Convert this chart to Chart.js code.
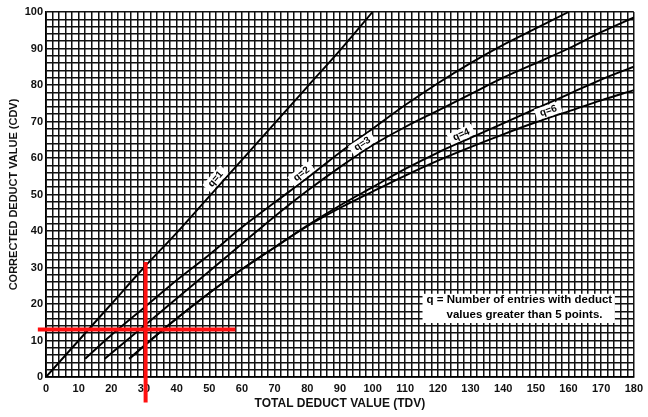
<!DOCTYPE html>
<html>
<head>
<meta charset="utf-8">
<script src="https://cdn.jsdelivr.net/npm/chart.js@4.4.1/dist/chart.umd.min.js"></script>
<style>
html,body{margin:0;padding:0;background:#fff;}
#wrap{width:648px;height:417px;position:relative;}
</style>
</head>
<body>
<div id="wrap"><canvas id="c" width="648" height="417"></canvas></div>
<script>
// ---- data ----
const q1Tdv = [0,10,20,30,40,50,60,70,80,90,100];
const q1Cdv = [0,10,20,30,39.5,49.5,59.5,69.5,79.5,89.5,100];
const q2Tdv = [12,20,30,40,50,60,70,80,90,100,110,120,130,140,150,160];
const q2Cdv = [5,11.5,19,26.5,33.5,41,47.8,54.5,61.5,68,74.5,80.5,86,91,95.5,100];
const q3Tdv = [18,20,30,40,50,60,70,80,90,100,110,120,130,140,150,160,170,180];
const q3Cdv = [5,6.5,14,21.5,29,36.5,44,51,57.5,63.5,68.5,73,77.5,82,86,90,94.5,98.5];
const q4Tdv = [25.5,30,40,50,60,70,80,90,100,110,120,130,140,150,160,170,180];
const q4Cdv = [5,8.5,16,23,29.5,35.5,41.5,47,52,57,61.5,65.5,69.5,73.5,77.5,81.5,85];
const q6Tdv = [25.5,30,40,50,60,70,80,90,100,110,120,130,140,150,160,170,180];
const q6Cdv = [5,8.5,16,23,29.5,35.5,41.3,46.3,50.8,55.2,59.3,63,66.5,69.8,72.8,75.8,78.6];
const curveNames = ['q=1','q=2','q=3','q=4','q=6'];
const labelAtTdv = [53.5,79.5,98,128,154.5];
// red cross-hair marks (value coordinates)
const redHTdv = [-2.5,58];
const redHCdv = [13,13];
const redVTdv = [30.5,30.5];
const redVCdv = [31.5,-7];
const xTickStep = 2, yTickStep = 2, labelEvery = 10;
const noteLines = ['q = Number of entries with deduct','values greater than 5 points.'];

const pairs = (xs, ys) => xs.map((x,i)=>({x:x, y:ys[i]}));
const curves = [pairs(q1Tdv,q1Cdv),pairs(q2Tdv,q2Cdv),pairs(q3Tdv,q3Cdv),pairs(q4Tdv,q4Cdv),pairs(q6Tdv,q6Cdv)];

const FONT = "'Liberation Sans', Arial, Helvetica, sans-serif";

const curveSets = curves.map((d,i)=>({
  label: curveNames[i], data: d, borderColor:'#000', borderWidth:1.9,
  pointRadius:0, cubicInterpolationMode:'monotone', fill:false, order:1
}));
const redSets = [
  {label:'redH', data:pairs(redHTdv,redHCdv), borderColor:'#ff1010', borderWidth:4, pointRadius:0, clip:false, order:0, borderCapStyle:'butt'},
  {label:'redV', data:pairs(redVTdv,redVCdv), borderColor:'#ff1010', borderWidth:4, pointRadius:0, clip:false, order:0, borderCapStyle:'butt'}
];

function interpY(d, x){
  for (let i=0;i<d.length-1;i++){
    if (x>=d[i].x && x<=d[i+1].x){
      const t=(x-d[i].x)/(d[i+1].x-d[i].x);
      return d[i].y+t*(d[i+1].y-d[i].y);
    }
  }
  return d[d.length-1].y;
}

const decor = {
  id:'decor',
  afterDatasetsDraw(chart){
    const ctx=chart.ctx, xs=chart.scales.x, ys=chart.scales.y;
    // curve labels
    ctx.save();
    ctx.font = "bold 10px "+FONT;
    curves.forEach((d,i)=>{
      const x=labelAtTdv[i];
      const px=xs.getPixelForValue(x), py=ys.getPixelForValue(interpY(d,x));
      const ax=xs.getPixelForValue(x-3), ay=ys.getPixelForValue(interpY(d,x-3));
      const bx=xs.getPixelForValue(x+3), by=ys.getPixelForValue(interpY(d,x+3));
      const ang=Math.atan2(by-ay,bx-ax);
      const txt=curveNames[i];
      const w=ctx.measureText(txt).width+9, h=11.5;
      ctx.save();
      ctx.translate(px,py); ctx.rotate(ang);
      ctx.fillStyle='#fff'; ctx.fillRect(-w/2,-h-1.2,w,h);
      ctx.fillStyle='#000'; ctx.textAlign='center'; ctx.textBaseline='middle';
      ctx.fillText(txt,0,-h/2-1);
      ctx.restore();
    });
    ctx.restore();
    // note box
    const x0=xs.getPixelForValue(115.3), x1=xs.getPixelForValue(174.2);
    const y0=ys.getPixelForValue(22.8), y1=ys.getPixelForValue(14.8);
    ctx.save();
    ctx.fillStyle='#fff'; ctx.fillRect(x0,y0,x1-x0,y1-y0);
    ctx.fillStyle='#000'; ctx.font="bold 11.5px "+FONT; ctx.textBaseline='middle';
    ctx.textAlign='left';
    ctx.fillText(noteLines[0], x0+4, y0+6.5);
    ctx.fillText(noteLines[1], x0+24, y0+21);
    ctx.restore();
  }
};

new Chart(document.getElementById('c'),{
  type:'line',
  data:{datasets:[...curveSets,...redSets]},
  options:{
    responsive:false, animation:false, devicePixelRatio:1,
    layout:{padding:{top:12,right:11,bottom:0,left:0}},
    plugins:{legend:{display:false},tooltip:{enabled:false}},
    scales:{
      x:{type:'linear',min:0,max:180,
        ticks:{stepSize:xTickStep,autoSkip:false,maxRotation:0,padding:5,color:'#111',
          font:{family:FONT,size:11,weight:'bold'},
          callback:v=> (v%labelEvery===0)? String(v):''},
        grid:{color:'#111',lineWidth:1.5,drawTicks:false},
        border:{color:'#000',width:1.8},
        title:{display:true,text:'TOTAL DEDUCT VALUE (TDV)',color:'#111',
          font:{family:FONT,size:12,weight:'bold'},padding:{top:0,bottom:6}},
        afterFit:s=>{s.height=40;}
      },
      y:{type:'linear',min:0,max:100,
        ticks:{stepSize:yTickStep,autoSkip:false,padding:3,color:'#111',
          font:{family:FONT,size:11,weight:'bold'},
          callback:v=> (v%labelEvery===0)? String(v):''},
        grid:{color:'#111',lineWidth:1.5,drawTicks:false},
        border:{color:'#000',width:1.8},
        title:{display:true,text:'CORRECTED DEDUCT VALUE (CDV)',color:'#111',
          font:{family:FONT,size:11,weight:'bold'},padding:{top:7,bottom:0}},
        afterFit:s=>{s.width=46;}
      }
    }
  },
  plugins:[decor]
});
</script>
</body>
</html>
